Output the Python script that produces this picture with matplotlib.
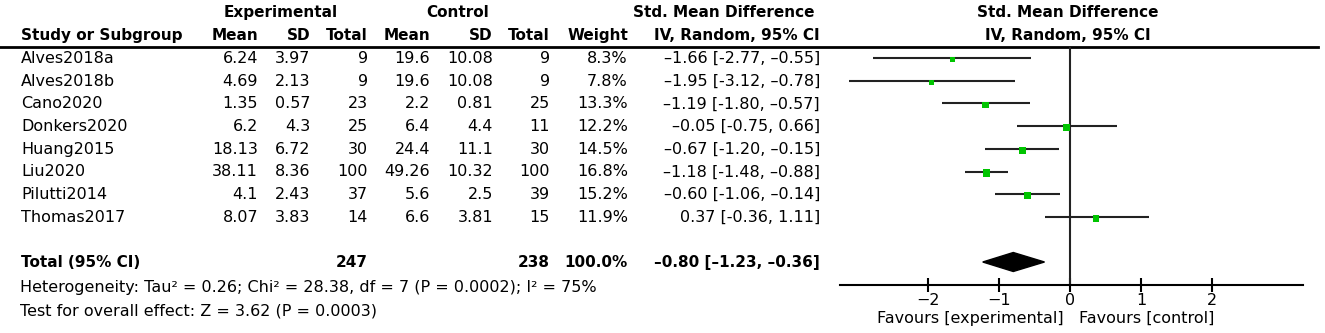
import numpy as np
import matplotlib.pyplot as plt
from matplotlib.patches import Polygon

# study data
studies = ["Alves2018a", "Alves2018b", "Cano2020", "Donkers2020", "Huang2015",
           "Liu2020", "Pilutti2014", "Thomas2017"]
exp_mean = ["6.24", "4.69", "1.35", "6.2", "18.13", "38.11", "4.1", "8.07"]
exp_sd = ["3.97", "2.13", "0.57", "4.3", "6.72", "8.36", "2.43", "3.83"]
exp_n = [9, 9, 23, 25, 30, 100, 37, 14]
ctl_mean = ["19.6", "19.6", "2.2", "6.4", "24.4", "49.26", "5.6", "6.6"]
ctl_sd = ["10.08", "10.08", "0.81", "4.4", "11.1", "10.32", "2.5", "3.81"]
ctl_n = [9, 9, 25, 11, 30, 100, 39, 15]
weight = [8.3, 7.8, 13.3, 12.2, 14.5, 16.8, 15.2, 11.9]
smd = [-1.66, -1.95, -1.19, -0.05, -0.67, -1.18, -0.60, 0.37]
ci_lo = [-2.77, -3.12, -1.80, -0.75, -1.20, -1.48, -1.06, -0.36]
ci_hi = [-0.55, -0.78, -0.57, 0.66, -0.15, -0.88, -0.14, 1.11]

total_smd, total_lo, total_hi = -0.80, -1.23, -0.36
ticks = [-2, -1, 0, 1, 2]

W, H = 1325, 333
FS = 11.5   # regular text
FB = 11     # bold text
green = "#00c400"


def fmt(v, dash="\u2013"):
    s = f"{abs(v):.2f}"
    return (dash + s) if v < 0 else s


def ci_text(m, lo, hi):
    return f"{fmt(m)} [{fmt(lo, '-')}, {fmt(hi)}]"


fig = plt.figure(figsize=(W / 100, H / 100), dpi=100)
ax = fig.add_axes([0, 0, 1, 1])
ax.set_xlim(0, W)
ax.set_ylim(H, 0)
ax.axis("off")

# column right edges (pixels)
cols = [258, 310, 368, 430, 493, 550, 628, 820]
x_name = 21

# headers
ax.text(281, 17, "Experimental", ha="center", va="baseline", fontsize=FB, fontweight="bold")
ax.text(458, 17, "Control", ha="center", va="baseline", fontsize=FB, fontweight="bold")
ax.text(724, 17, "Std. Mean Difference", ha="center", va="baseline", fontsize=FB, fontweight="bold")
ax.text(1068, 17, "Std. Mean Difference", ha="center", va="baseline", fontsize=FB, fontweight="bold")
ax.text(x_name, 40, "Study or Subgroup", ha="left", va="baseline", fontsize=FB, fontweight="bold")
hdr = ["Mean", "SD", "Total", "Mean", "SD", "Total", "Weight", "IV, Random, 95% CI"]
for x, h in zip(cols, hdr):
    ax.text(x, 40, h, ha="right", va="baseline", fontsize=FB, fontweight="bold")
ax.text(1068, 40, "IV, Random, 95% CI", ha="center", va="baseline", fontsize=FB, fontweight="bold")
ax.plot([0, 1318], [47, 47], color="black", lw=2)

row_y = 58 + 22.7 * np.arange(len(studies))
total_y = 262

for i, name in enumerate(studies):
    y = row_y[i] + 5
    vals = [exp_mean[i], exp_sd[i], str(exp_n[i]), ctl_mean[i], ctl_sd[i],
            str(ctl_n[i]), f"{weight[i]:.1f}%", ci_text(smd[i], ci_lo[i], ci_hi[i])]
    ax.text(x_name, y, name, ha="left", va="baseline", fontsize=FS)
    for x, v in zip(cols, vals):
        ax.text(x, y, v, ha="right", va="baseline", fontsize=FS)

# total row
yt = total_y + 5
ax.text(x_name, yt, "Total (95% CI)", ha="left", va="baseline", fontsize=FB, fontweight="bold")
tot_vals = {2: str(sum(exp_n)), 5: str(sum(ctl_n)), 6: "100.0%",
            7: f"{fmt(total_smd)} [{fmt(total_lo)}, {fmt(total_hi)}]"}
for k, v in tot_vals.items():
    ax.text(cols[k], yt, v, ha="right", va="baseline", fontsize=FB, fontweight="bold")

ax.text(x_name - 1, 292, "Heterogeneity: Tau\u00b2 = 0.26; Chi\u00b2 = 28.38, df = 7 (P = 0.0002); I\u00b2 = 75%",
        ha="left", va="baseline", fontsize=FS)
ax.text(x_name - 1, 315, "Test for overall effect: Z = 3.62 (P = 0.0003)",
        ha="left", va="baseline", fontsize=FS)

# forest plot axes
fx0, fx1, fy0, fy1 = 840, 1303, 47, 285
fa = fig.add_axes([fx0 / W, (H - fy1) / H, (fx1 - fx0) / W, (fy1 - fy0) / H])
fa.set_xlim(-3.24, 3.28)
fa.set_ylim(fy1, fy0)
fa.patch.set_alpha(0)
for s in ["top", "left", "right"]:
    fa.spines[s].set_visible(False)
fa.spines["bottom"].set_linewidth(1.5)
fa.set_yticks([])
fa.set_xticks(ticks)
fa.tick_params(axis="x", direction="inout", length=10, width=1.5, labelsize=FS, pad=1)

fa.axvline(0, color="#222222", lw=1.5)
fa.hlines(row_y, ci_lo, ci_hi, color="#222222", lw=1.5)
# squares sit a touch below the CI line, as in RevMan output
fa.scatter(smd, row_y + 1.5, marker="s", s=np.array(weight) * 1.7, color=green, zorder=3, linewidths=0)

dh = 9.5
fa.add_patch(Polygon([[total_lo, total_y], [total_smd, total_y - dh],
                      [total_hi, total_y], [total_smd, total_y + dh]],
                     closed=True, color="black"))

ax.text(970, 323, "Favours [experimental]", ha="center", va="baseline", fontsize=FS)
ax.text(1147, 323, "Favours [control]", ha="center", va="baseline", fontsize=FS)

fig.savefig("out.png", dpi=100)
